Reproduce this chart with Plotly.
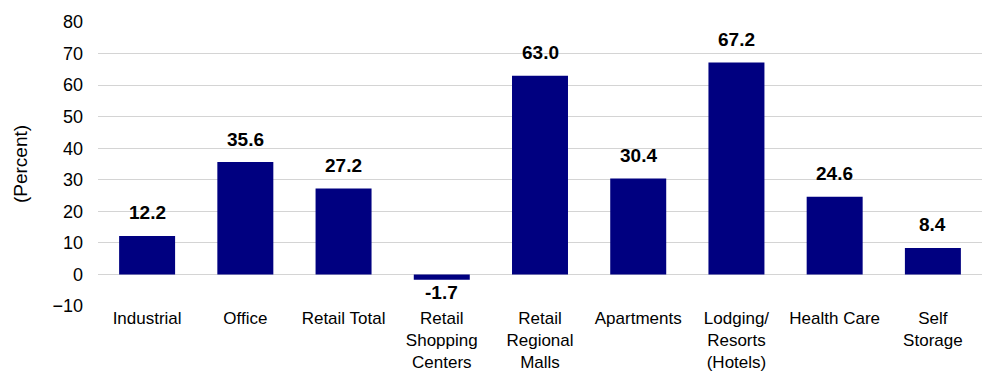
import plotly.graph_objects as go

categories = ["Industrial", "Office", "Retail Total", "Retail<br>Shopping<br>Centers",
              "Retail<br>Regional<br>Malls", "Apartments", "Lodging/<br>Resorts<br>(Hotels)",
              "Health Care", "Self<br>Storage"]
values = [12.2, 35.6, 27.2, -1.7, 63.0, 30.4, 67.2, 24.6, 8.4]
labels = ["12.2", "35.6", "27.2", "-1.7", "63.0", "30.4", "67.2", "24.6", "8.4"]
y_ticks = [-10, 0, 10, 20, 30, 40, 50, 60, 70, 80]

FONT = "Liberation Sans, Arial, sans-serif"

fig = go.Figure()
fig.add_trace(go.Bar(x=categories, y=values, marker_color="#000080", marker_line_width=0))

for c, v, t in zip(categories, values, labels):
    fig.add_annotation(x=c, y=v, text=f"<b>{t}</b>", showarrow=False,
                       yanchor="middle", yshift=23 if v >= 0 else -13,
                       font=dict(family=FONT, size=19, color="#000000"))

fig.update_layout(
    width=982, height=381,
    margin=dict(l=98, r=0, t=22, b=75),
    plot_bgcolor="white", paper_bgcolor="white",
    bargap=0.43, showlegend=False,
    font=dict(family=FONT, color="#000000"),
)
fig.update_xaxes(tickfont=dict(size=17), showline=False, ticks="", tickangle=0)
fig.update_yaxes(range=[-10, 80], tickvals=y_ticks, tickfont=dict(size=18),
                 showgrid=True, gridcolor="#d4d4d4", gridwidth=1,
                 zeroline=True, zerolinecolor="#d4d4d4", zerolinewidth=1,
                 title=dict(text="(Percent)", font=dict(size=19), standoff=19),
                 ticks="", ticklabelstandoff=14)

fig.write_html("out.html")
